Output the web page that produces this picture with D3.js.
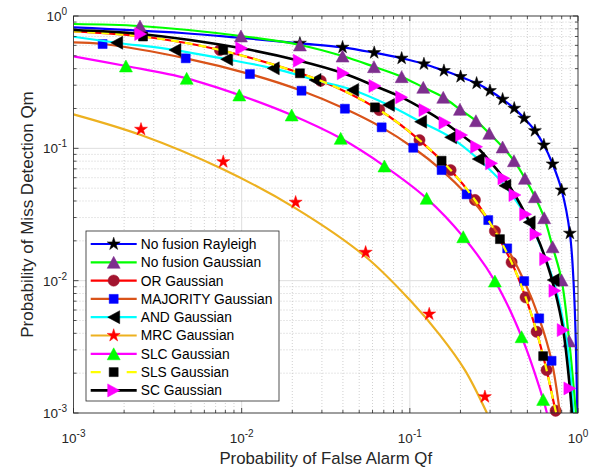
<!DOCTYPE html>
<html>
<head>
<meta charset="utf-8">
<script src="https://cdn.jsdelivr.net/npm/d3@7"></script>
<style>
  body { margin: 0; background: #fff; }
  svg { display: block; font-family: "Liberation Sans", Arial, Helvetica, sans-serif; }
</style>
</head>
<body>
<svg id="chart" width="602" height="471"></svg>
<script>
// values, [Qf, Qm]
const rayleighLine = [[0.001,0.821],[0.00442,0.744],[0.01,0.682],[0.0222,0.622],[0.0398,0.580],[0.0614,0.528],[0.0894,0.479],[0.1213,0.434],[0.1595,0.386],[0.2004,0.348],[0.2495,0.310],[0.2995,0.2725],[0.3562,0.2347],[0.4176,0.2006],[0.4787,0.1686],[0.5544,0.1358],[0.6268,0.1059],[0.7063,0.0761],[0.799,0.0484],[0.895,0.0228],[0.952,0.00713],[0.99,0.001]]
const rayleighMarks = [[0.0222,0.622],[0.0398,0.580],[0.0614,0.528],[0.0894,0.479],[0.1213,0.434],[0.1595,0.386],[0.2004,0.348],[0.2495,0.310],[0.2995,0.2725],[0.3562,0.2347],[0.4176,0.2006],[0.4787,0.1686],[0.5544,0.1358],[0.6268,0.1059],[0.7063,0.0761],[0.799,0.0484],[0.895,0.0228]]

const noFusionLine = [[0.001,0.870],[0.002485,0.840],[0.0099,0.706],[0.0222,0.604],[0.0398,0.498],[0.0612,0.414],[0.0894,0.348],[0.1202,0.289],[0.158,0.243],[0.1986,0.197],[0.2472,0.1617],[0.2966,0.1298],[0.3562,0.1023],[0.4159,0.0806],[0.4834,0.0593],[0.5544,0.0431],[0.6294,0.0299],[0.7063,0.01804],[0.799,0.0101],[0.8866,0.0035],[0.972,0.001]]
const noFusionMarks = [[0.002485,0.840],[0.0099,0.706],[0.0222,0.604],[0.0398,0.498],[0.0612,0.414],[0.0894,0.348],[0.1202,0.289],[0.158,0.243],[0.1986,0.197],[0.2472,0.1617],[0.2966,0.1298],[0.3562,0.1023],[0.4159,0.0806],[0.4834,0.0593],[0.5544,0.0431],[0.6294,0.0299],[0.7063,0.01804],[0.799,0.0101],[0.8866,0.0035]]

const orLine = [[0.001,0.766],[0.00259,0.700],[0.00743,0.553],[0.0295,0.324],[0.0658,0.1948],[0.1141,0.1155],[0.1748,0.0685],[0.2438,0.0407],[0.3206,0.0237],[0.4029,0.01375],[0.488,0.00748],[0.5675,0.00411],[0.6506,0.00211],[0.7361,0.00104],[0.744,0.001]]
const orMarks = [[0.00743,0.553],[0.0295,0.324],[0.0658,0.1948],[0.1141,0.1155],[0.1748,0.0685],[0.2438,0.0407],[0.3206,0.0237],[0.4029,0.01375],[0.488,0.00748],[0.5675,0.00411],[0.6506,0.00211],[0.7361,0.00104]]

const majorityLine = [[0.001,0.633],[0.00149,0.614],[0.00465,0.479],[0.0112,0.364],[0.0227,0.2725],[0.0411,0.1992],[0.068,0.1441],[0.1048,0.101],[0.1545,0.0685],[0.2176,0.0449],[0.2926,0.0287],[0.3794,0.01754],[0.4787,0.00993],[0.588,0.00519],[0.6966,0.00248],[0.78,0.001]]
const majorityMarks = [[0.00149,0.614],[0.00465,0.479],[0.0112,0.364],[0.0227,0.2725],[0.0411,0.1992],[0.068,0.1441],[0.1048,0.101],[0.1545,0.0685],[0.2176,0.0449],[0.2926,0.0287],[0.3794,0.01754],[0.4787,0.00993],[0.588,0.00519],[0.6966,0.00248]]

const andLine = [[0.001,0.697],[0.001806,0.628],[0.00401,0.553],[0.00814,0.471],[0.01541,0.4024],[0.0273,0.3283],[0.0457,0.276],[0.0746,0.2125],[0.1159,0.1589],[0.1748,0.1211],[0.2551,0.083],[0.3677,0.0522],[0.5127,0.0276],[0.7122,0.0101],[0.859,0.00338],[0.939,0.001]]
const andMarks = [[0.001806,0.628],[0.00401,0.553],[0.00814,0.471],[0.01541,0.4024],[0.0273,0.3283],[0.0457,0.276],[0.0746,0.2125],[0.1159,0.1589],[0.1748,0.1211],[0.2551,0.083],[0.3677,0.0522],[0.5127,0.0276],[0.7122,0.0101]]

const mrcLine = [[0.001,0.1807],[0.00252,0.126],[0.00774,0.0694],[0.02094,0.0352],[0.0546,0.01516],[0.1001,0.00713],[0.151,0.00388],[0.2126,0.00211],[0.2874,0.001]]
const mrcMarks = [[0.00252,0.1392],[0.00777,0.0792],[0.02094,0.0391],[0.0546,0.01637],[0.1304,0.00559],[0.2796,0.001326]]

const slcLine = [[0.001,0.496],[0.00205,0.419],[0.00471,0.338],[0.00968,0.253],[0.01983,0.1785],[0.0388,0.119],[0.0706,0.0735],[0.1259,0.0419],[0.2078,0.02147],[0.3206,0.00993],[0.4619,0.00377],[0.6207,0.001267],[0.6533,0.001]]
const slcMarks = [[0.00205,0.419],[0.00471,0.338],[0.00968,0.253],[0.01983,0.1785],[0.0388,0.119],[0.0706,0.0735],[0.1259,0.0419],[0.2078,0.02147],[0.3206,0.00993],[0.4619,0.00377],[0.6207,0.001267]]

// the SLS dashed curve lies on top of the OR curve
const slsLine = orLine
const slsMarks = [[0.00259,0.700],[0.00777,0.553],[0.0222,0.369],[0.062,0.204],[0.1545,0.0806],[0.3434,0.0206],[0.6207,0.00269]]

const scLine = [[0.001,0.784],[0.00251,0.731],[0.01,0.570],[0.022,0.459],[0.0402,0.369],[0.062,0.296],[0.0894,0.243],[0.123,0.1948],[0.1617,0.1561],[0.2032,0.126],[0.2495,0.1028],[0.3064,0.077],[0.3627,0.0593],[0.4217,0.0444],[0.488,0.0317],[0.562,0.0224],[0.6418,0.01457],[0.7292,0.00839],[0.8166,0.00423],[0.895,0.001534],[0.92,0.001]]
const scMarks = [[0.00251,0.731],[0.01,0.570],[0.022,0.459],[0.0402,0.369],[0.062,0.296],[0.0894,0.243],[0.123,0.1948],[0.1617,0.1561],[0.2032,0.126],[0.2495,0.1028],[0.3064,0.077],[0.3627,0.0593],[0.4217,0.0444],[0.488,0.0317],[0.562,0.0224],[0.6418,0.01457],[0.7292,0.00839],[0.8166,0.00423],[0.895,0.001534]]

const seriesNames = ['No fusion Rayleigh','No fusion Gaussian','OR Gaussian','MAJORITY Gaussian','AND Gaussian','MRC Gaussian','SLC Gaussian','SLS Gaussian','SC Gaussian']
const tickValues = [0.001, 0.01, 0.1, 1]
const tickExps = ['-3', '-2', '-1', '0']
const xLabel = 'Probability of False Alarm Qf'
const yLabel = 'Probability of Miss Detection Qm'

const series = [
  { line: rayleighLine, marks: rayleighMarks, color: '#0000ff', marker: 'star', fill: '#000000' },
  { line: noFusionLine, marks: noFusionMarks, color: '#00ff00', marker: 'up', fill: '#7e2f8e' },
  { line: orLine, marks: orMarks, color: '#ff0000', marker: 'circle', fill: '#a2142f' },
  { line: majorityLine, marks: majorityMarks, color: '#d95319', marker: 'square', fill: '#0000ff' },
  { line: andLine, marks: andMarks, color: '#00ffff', marker: 'left', fill: '#000000' },
  { line: mrcLine, marks: mrcMarks, color: '#edb120', marker: 'star', fill: '#ff0000' },
  { line: slcLine, marks: slcMarks, color: '#ff00ff', marker: 'up', fill: '#00ff00' },
  { line: slsLine, marks: slsMarks, color: '#ffff00', marker: 'square', fill: '#000000', dash: '8,6' },
  { line: scLine, marks: scMarks, color: '#000000', marker: 'right', fill: '#ff00ff', width: 2.6 },
].map((s, i) => ({ ...s, name: seriesNames[i] }))

const pLeft = 73.5, pRight = 578, pTop = 16, pBottom = 413
const axisColor = '#262626'

const x = d3.scaleLog().domain([1e-3, 1]).range([pLeft, pRight])
const y = d3.scaleLog().domain([1e-3, 1]).range([pBottom, pTop])

const svg = d3.select('#chart')
svg.append('rect').attr('width', 602).attr('height', 471).attr('fill', '#fff')

svg.append('clipPath').attr('id', 'plot')
  .append('rect').attr('x', pLeft).attr('y', pTop).attr('width', pRight - pLeft).attr('height', pBottom - pTop)

const allTicks = x.ticks()
const isMajor = t => Math.abs(Math.log10(t) - Math.round(Math.log10(t))) < 1e-9
const minor = allTicks.filter(t => !isMajor(t))

// grid
const grid = svg.append('g')
grid.selectAll('.mx').data(minor).enter().append('line')
  .attr('x1', d => x(d)).attr('x2', d => x(d)).attr('y1', pTop).attr('y2', pBottom)
  .attr('stroke', '#c4c4c4').attr('stroke-width', 0.8).attr('stroke-dasharray', '1,2')
grid.selectAll('.my').data(minor).enter().append('line')
  .attr('y1', d => y(d)).attr('y2', d => y(d)).attr('x1', pLeft).attr('x2', pRight)
  .attr('stroke', '#c4c4c4').attr('stroke-width', 0.8).attr('stroke-dasharray', '1,2')
grid.selectAll('.gx').data(tickValues).enter().append('line')
  .attr('x1', d => x(d)).attr('x2', d => x(d)).attr('y1', pTop).attr('y2', pBottom)
  .attr('stroke', '#dedede').attr('stroke-width', 1)
grid.selectAll('.gy').data(tickValues).enter().append('line')
  .attr('y1', d => y(d)).attr('y2', d => y(d)).attr('x1', pLeft).attr('x2', pRight)
  .attr('stroke', '#dedede').attr('stroke-width', 1)

// markers shaped like MATLAB ones
function markerPath(type) {
  switch (type) {
    case 'star': return d3.symbol(d3.symbolStar, 52)()
    case 'circle': return d3.symbol(d3.symbolCircle, 100)()
    case 'square': return d3.symbol(d3.symbolSquare, 81)()
    case 'up': return 'M0,-6L6.5,6L-6.5,6Z'
    case 'left': return 'M-6,0L6,-6.5L6,6.5Z'
    case 'right': return 'M6,0L-6,-6.5L-6,6.5Z'
  }
}

const line = d3.line().x(d => x(d[0])).y(d => y(d[1])).curve(d3.curveCatmullRom.alpha(0.5))

const plot = svg.append('g')
series.forEach(s => {
  plot.append('path').datum(s.line)
    .attr('d', line).attr('fill', 'none')
    .attr('stroke', s.color).attr('stroke-width', s.width || 2.2)
    .attr('stroke-dasharray', s.dash || null)
    .attr('clip-path', 'url(#plot)')
  plot.selectAll(null).data(s.marks).enter().append('path')
    .attr('d', markerPath(s.marker))
    .attr('transform', d => `translate(${x(d[0])},${y(d[1])})`)
    .attr('fill', s.fill).attr('stroke', s.fill).attr('stroke-width', 0.5)
})

// axes box and ticks
const axes = svg.append('g').attr('stroke', axisColor).attr('stroke-width', 0.8)
axes.append('rect').attr('x', pLeft).attr('y', pTop).attr('width', pRight - pLeft).attr('height', pBottom - pTop).attr('fill', 'none')
allTicks.forEach(t => {
  const len = isMajor(t) ? 5 : 3
  axes.append('line').attr('x1', x(t)).attr('x2', x(t)).attr('y1', pBottom).attr('y2', pBottom - len)
  axes.append('line').attr('x1', x(t)).attr('x2', x(t)).attr('y1', pTop).attr('y2', pTop + len)
  axes.append('line').attr('y1', y(t)).attr('y2', y(t)).attr('x1', pLeft).attr('x2', pLeft + len)
  axes.append('line').attr('y1', y(t)).attr('y2', y(t)).attr('x1', pRight).attr('x2', pRight - len)
})

// tick labels 10^n
const xt = svg.append('g').attr('fill', axisColor).attr('font-size', 13.5)
tickValues.forEach((t, i) => {
  const txt = xt.append('text').attr('x', x(t)).attr('y', 443).attr('text-anchor', 'middle')
  txt.append('tspan').text('10')
  txt.append('tspan').attr('dy', -6).attr('font-size', 10).text(tickExps[i])
})
tickValues.forEach((t, i) => {
  const txt = xt.append('text').attr('x', 67).attr('y', y(t) + 5).attr('text-anchor', 'end')
  txt.append('tspan').text('10')
  txt.append('tspan').attr('dy', -6).attr('font-size', 10).text(tickExps[i])
})

svg.append('text').attr('x', (pLeft + pRight) / 2).attr('y', 464).attr('text-anchor', 'middle')
  .attr('font-size', 16.8).attr('fill', axisColor).text(xLabel)
svg.append('text').attr('transform', `translate(33,${(pTop + pBottom) / 2}) rotate(-90)`)
  .attr('text-anchor', 'middle').attr('font-size', 17).attr('fill', axisColor).text(yLabel)

// legend
const lg = svg.append('g')
lg.append('rect').attr('x', 86).attr('y', 231).attr('width', 193).attr('height', 170)
  .attr('fill', '#fff').attr('stroke', axisColor).attr('stroke-width', 0.8)
series.forEach((s, i) => {
  const cy = 244 + i * 18.3
  lg.append('line').attr('x1', 90.7).attr('x2', 136.7).attr('y1', cy).attr('y2', cy)
    .attr('stroke', s.color).attr('stroke-width', s.width || 2.2)
    .attr('stroke-dasharray', s.dash ? '10,26' : null)
  lg.append('path').attr('d', markerPath(s.marker)).attr('transform', `translate(113.7,${cy})`)
    .attr('fill', s.fill).attr('stroke', s.fill).attr('stroke-width', 0.5)
  lg.append('text').attr('x', 140.7).attr('y', cy).attr('dy', '0.36em')
    .attr('font-size', 13.8).attr('fill', '#000').text(s.name)
})
</script>
</body>
</html>
